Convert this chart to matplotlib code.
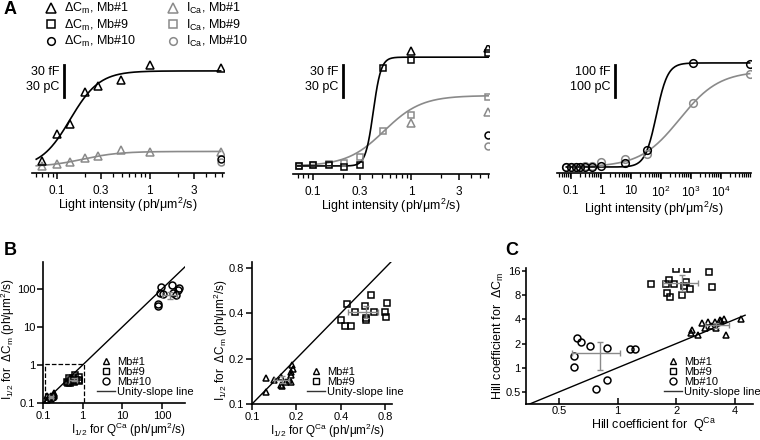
import numpy as np
import matplotlib
matplotlib.use("Agg")
import matplotlib.pyplot as plt
from matplotlib.lines import Line2D
from matplotlib.patches import Rectangle
from matplotlib.ticker import LogLocator, NullFormatter
from matplotlib.transforms import blended_transform_factory

plt.rcParams['font.family'] = ['Liberation Sans', 'DejaVu Sans']
plt.rcParams['mathtext.fontset'] = 'custom'
plt.rcParams['mathtext.rm'] = 'Liberation Sans'
plt.rcParams['mathtext.it'] = 'Liberation Sans:italic'
plt.rcParams['mathtext.bf'] = 'Liberation Sans:bold'
plt.rcParams['font.size'] = 9

W, H = 760, 440
GRAY = '#8a8a8a'
TICK_FS = 8.5
LAB_FS = 9

# ---------------- panel A data (fF for dCm, pC for ICa) ----------------
a1_x = [0.07, 0.1, 0.138, 0.2, 0.28, 0.49, 1.0, 5.8]
a1_cm_mb1 = [6.6, 31.9, 41.3, 71.3, 76.9, 82.5, 96.6, 93.8]
a1_ca_mb1 = [1.9, 3.75, 5.6, 9.4, 11.3, 16.9, 15.0, 15.0]
a1_x_sat = [5.8]
a1_cm_mb10 = [8.4]
a1_ca_mb10 = [5.6]

a2_x = [0.072, 0.1, 0.145, 0.205, 0.3, 0.51, 1.0, 6.0]
a2_cm_mb9 = [1.9, 2.8, 2.8, 0.9, 2.8, 93.8, 101.3, 107.8]
a2_ca_mb9 = [1.9, 2.8, 3.75, 4.7, 10.3, 34.7, 49.7, 66.6]
a2_x_sat = [1.0, 6.0]
a2_cm_mb1 = [109.7, 112.5]
a2_ca_mb1 = [42.2, 52.5]
a2_x_last = [6.0]
a2_cm_mb10 = [30.9]
a2_ca_mb10 = [20.6]

a3_x = [0.07, 0.1, 0.15, 0.2, 0.3, 0.5, 1, 6.3, 35, 1200, 90000]
a3_cm_mb10 = [3.1, 3.1, 3.1, 3.1, 3.1, 3.1, 6.3, 15.6, 56, 328, 325]
a3_ca_mb10 = [3.1, 3.1, 3.1, 3.1, 4.7, 6.3, 19.7, 27, 43.8, 203, 294]

# Hill fits: base, amplitude, I1/2, n
a1_cm_fit = (0.0, 91.0, 0.139, 2.75)
a1_ca_fit = (1.0, 14.5, 0.19, 2.2)
a2_cm_fit = (1.9, 102.0, 0.41, 11.0)
a2_ca_fit = (1.9, 66.0, 0.53, 2.3)
a3_cm_fit = (3.0, 325.0, 70.0, 2.3)
a3_ca_fit = (3.0, 300.0, 420.0, 0.66)

# ---------------- panel B data (I1/2, ph/um2/s) ----------------
b_mb1_x = [0.125, 0.125, 0.142, 0.157, 0.157, 0.178, 0.185, 0.188, 0.19, 0.185, 0.159, 0.17, 0.183]
b_mb1_y = [0.149, 0.121, 0.145, 0.134, 0.152, 0.145, 0.156, 0.182, 0.17, 0.162, 0.131, 0.141, 0.141]
b_mb9_x = [0.44, 0.645, 0.82, 0.58, 0.50, 0.67, 0.80, 0.81, 0.59, 0.59, 0.40, 0.43, 0.47]
b_mb9_y = [0.46, 0.53, 0.47, 0.45, 0.41, 0.41, 0.41, 0.38, 0.37, 0.36, 0.36, 0.33, 0.33]
b_mb10_x = [81, 81, 94, 89, 107, 174, 188, 232, 270, 255]
b_mb10_y = [36, 40, 110, 76, 72, 129, 76, 69, 104, 95]
b_mean_x = [0.16, 0.59, 160]
b_mean_y = [0.145, 0.41, 70]
b_xerr_lo = [0.018, 0.14, 60]
b_xerr_hi = [0.018, 0.13, 80]
b_yerr_lo = [0.008, 0.04, 15]
b_yerr_hi = [0.008, 0.04, 15]
zoom_box = (0.11, 0.1, 1.05, 1.05)

# ---------------- panel C data (Hill coefficients) ----------------
c_mb1_x = [2.4, 2.37, 2.59, 2.7, 2.92, 3.15, 3.35, 3.5, 3.61, 4.3, 2.8, 3.2, 3.0, 3.4]
c_mb1_y = [2.95, 2.74, 2.56, 3.58, 3.74, 3.74, 3.93, 4.0, 2.56, 4.05, 3.1, 3.1, 3.3, 3.8]
c_mb9_x = [2.0, 2.28, 2.94, 1.48, 1.77, 1.83, 1.95, 2.24, 2.18, 2.36, 3.03, 1.80, 1.86, 2.14]
c_mb9_y = [16.9, 16.9, 15.7, 11, 11, 12.4, 10.9, 11.8, 10.5, 9.47, 10.0, 8.45, 7.5, 8.0]
c_mb10_x = [0.62, 0.65, 0.72, 0.88, 1.16, 1.22, 0.6, 0.6, 0.88, 0.77]
c_mb10_y = [2.33, 2.1, 1.88, 1.75, 1.7, 1.7, 1.38, 1.03, 0.71, 0.55]
c_mean_x = [3.2, 2.13, 0.81]
c_mean_y = [3.39, 11.2, 1.52]
c_xerr_lo = [0.4, 0.43, 0.23]
c_xerr_hi = [0.5, 0.44, 0.22]
c_yerr_lo = [0.25, 2.3, 0.58]
c_yerr_hi = [0.25, 2.9, 0.58]


def hill(x, base, amp, k, n):
    return base + amp * x ** n / (k ** n + x ** n)


fig = plt.figure(figsize=(7.6, 4.4), dpi=100)


def add_ax(l, t, r, b):
    return fig.add_axes([l / W, 1 - b / H, (r - l) / W, (b - t) / H])


def open_pts(ax, x, y, m, c, ms=6):
    ax.plot(x, y, ls='none', marker=m, ms=ms, mfc='none', mec=c, mew=1.1, zorder=3)


def style_a(ax, xlim, ylim):
    for s in ['left', 'top', 'right']:
        ax.spines[s].set_visible(False)
    ax.spines['bottom'].set_linewidth(1.2)
    ax.set_xscale('log')
    ax.set_xlim(*xlim)
    ax.set_ylim(*ylim)
    ax.set_yticks([])
    ax.xaxis.set_minor_locator(LogLocator(base=10, subs=np.arange(2, 10), numticks=30))
    ax.xaxis.set_minor_formatter(NullFormatter())
    ax.tick_params(axis='x', which='major', length=4.5, width=1.1, pad=4, labelsize=TICK_FS)
    ax.tick_params(axis='x', which='minor', length=2.8, width=0.9)
    ax.set_xlabel('Light intensity (ph/μm$^2$/s)', labelpad=-0.5, fontsize=LAB_FS)
    ax.patch.set_alpha(0)


def scale_bar(ax, xf, y0, length):
    tr = blended_transform_factory(ax.transAxes, ax.transData)
    ax.plot([xf, xf], [y0, y0 + length], color='k', lw=2, transform=tr, clip_on=False)
    ax.text(xf - 0.025, y0 + length * 0.78, f'{length} fF', ha='right', va='center',
            transform=tr, fontsize=LAB_FS)
    ax.text(xf - 0.025, y0 + length * 0.3, f'{length} pC', ha='right', va='center',
            transform=tr, fontsize=LAB_FS)


# ---- A1 ----
ax = add_ax(32, 45, 224, 173)
style_a(ax, (0.054, 6.3), (-4.7, 115.3))
xs = np.logspace(np.log10(0.06), np.log10(5.8), 300)
ax.plot(xs, hill(xs, *a1_cm_fit), color='k', lw=1.2)
ax.plot(xs, hill(xs, *a1_ca_fit), color=GRAY, lw=1.2)
open_pts(ax, a1_x, a1_ca_mb1, '^', GRAY)
open_pts(ax, a1_x, a1_cm_mb1, '^', 'k')
open_pts(ax, a1_x_sat, a1_ca_mb10, 'o', GRAY, 5)
open_pts(ax, a1_x_sat, a1_cm_mb10, 'o', 'k', 5)
ax.set_xticks([0.1, 0.3, 1, 3], ['0.1', '0.3', '1', '3'])
scale_bar(ax, 0.167, 66.6, 30)

# ---- A2 ----
ax = add_ax(293, 45, 489, 174)
style_a(ax, (0.063, 6.1), (-5.6, 115.3))
xs = np.logspace(np.log10(0.07), np.log10(6.0), 300)
ax.plot(xs, hill(xs, *a2_ca_fit), color=GRAY, lw=1.2)
ax.plot(xs, hill(xs, *a2_cm_fit), color='k', lw=1.2)
open_pts(ax, a2_x, a2_ca_mb9, 's', GRAY, 5)
open_pts(ax, a2_x, a2_cm_mb9, 's', 'k', 5)
open_pts(ax, a2_x_sat, a2_ca_mb1, '^', GRAY)
open_pts(ax, a2_x_sat, a2_cm_mb1, '^', 'k')
open_pts(ax, a2_x_last, a2_ca_mb10, 'o', GRAY, 5)
open_pts(ax, a2_x_last, a2_cm_mb10, 'o', 'k', 5)
ax.set_xticks([0.1, 0.3, 1, 3], ['0.1', '0.3', '1', '3'])
scale_bar(ax, 0.255, 66.6, 30)

# ---- A3 ----
ax = add_ax(557, 45, 751, 173)
style_a(ax, (0.034, 1.0e5), (-15.6, 384))
xs = np.logspace(np.log10(0.07), np.log10(90000), 300)
ax.plot(xs, hill(xs, *a3_ca_fit), color=GRAY, lw=1.2)
ax.plot(xs, hill(xs, *a3_cm_fit), color='k', lw=1.2)
open_pts(ax, a3_x, a3_ca_mb10, 'o', GRAY, 5.5)
open_pts(ax, a3_x, a3_cm_mb10, 'o', 'k', 5.5)
ax.set_xticks([0.1, 1, 10, 100, 1e3, 1e4],
              ['0.1', '1', '10', '10$^2$', '10$^3$', '10$^4$'])
scale_bar(ax, 0.299, 222, 100)

# ---- A legend ----
h_cm = [Line2D([], [], ls='none', marker=m, ms=s, mfc='none', mec='k', mew=1.1)
        for m, s in zip('^so', [6.5, 5.5, 5.5])]
h_ca = [Line2D([], [], ls='none', marker=m, ms=s, mfc='none', mec=GRAY, mew=1.1)
        for m, s in zip('^so', [6.5, 5.5, 5.5])]
leg_kw = dict(loc='upper left', frameon=False, fontsize=9, handlelength=1.0,
              handletextpad=0.55, labelspacing=0.12, borderpad=0, borderaxespad=0)
fig.legend(h_cm, ['ΔC$_\\mathrm{m}$, Mb#1', 'ΔC$_\\mathrm{m}$, Mb#9', 'ΔC$_\\mathrm{m}$, Mb#10'],
           bbox_to_anchor=(45 / W, 1 - 1 / H), **leg_kw)
fig.legend(h_ca, ['I$_\\mathrm{Ca}$, Mb#1', 'I$_\\mathrm{Ca}$, Mb#9', 'I$_\\mathrm{Ca}$, Mb#10'],
           bbox_to_anchor=(167 / W, 1 - 1 / H), **leg_kw)


def style_b(ax):
    for s in ['top', 'right']:
        ax.spines[s].set_visible(False)
    for s in ['left', 'bottom']:
        ax.spines[s].set_linewidth(1.2)
    ax.tick_params(which='major', length=4, width=1.1, pad=1.5, labelsize=8)
    ax.tick_params(which='minor', length=0)
    ax.patch.set_alpha(0)


def unity_legend(ax, handles, labels, anchor):
    ax.legend(handles + [Line2D([], [], color='#333333', lw=1)], labels + ['Unity-slope line'],
              loc='upper left', bbox_to_anchor=anchor, bbox_transform=fig.transFigure,
              frameon=False, fontsize=8, handlelength=1.6, handletextpad=0.2,
              labelspacing=0.0, borderpad=0, borderaxespad=0)


mk = lambda m: Line2D([], [], ls='none', marker=m, ms=5, mfc='none', mec='k', mew=1)
ylab = 'I$_{1/2}$ for  ΔC$_\\mathrm{m}$ (ph/μm$^2$/s)'
xlab = 'I$_{1/2}$ for Q$^\\mathrm{Ca}$ (ph/μm$^2$/s)'

# ---- B1 ----
ax = add_ax(43, 262, 185, 403)
style_b(ax)
ax.set_xscale('log')
ax.set_yscale('log')
ax.set_xlim(0.1, 380)
ax.set_ylim(0.1, 510)
ax.plot([0.1, 380], [0.1, 380], color='k', lw=1)
ax.add_patch(Rectangle((zoom_box[0], zoom_box[1]), zoom_box[2] - zoom_box[0],
                       zoom_box[3] - zoom_box[1], fill=False, ls='--', lw=0.9, ec='k'))
open_pts(ax, b_mb1_x, b_mb1_y, '^', 'k', 5)
open_pts(ax, b_mb9_x, b_mb9_y, 's', 'k', 5)
open_pts(ax, b_mb10_x, b_mb10_y, 'o', 'k', 5)
ax.errorbar(b_mean_x, b_mean_y, xerr=[b_xerr_lo, b_xerr_hi], yerr=[b_yerr_lo, b_yerr_hi],
            fmt='none', ecolor=GRAY, elinewidth=1, capsize=2, zorder=4)
ax.set_xticks([0.1, 1, 10, 100], ['0.1', '1', '10', '100'])
ax.set_yticks([0.1, 1, 10, 100], ['0.1', '1', '10', '100'])
ax.set_xlabel(xlab, fontsize=8.5)
ax.set_ylabel(ylab, fontsize=8.5)
ax.xaxis.set_label_coords(0.6, -0.125)
ax.yaxis.set_label_coords(-0.183, 0.45)
unity_legend(ax, [mk('^'), mk('s'), mk('o')], ['Mb#1', 'Mb#9', 'Mb#10'], (97 / W, 1 - 357 / H))

# ---- B2 ----
ax = add_ax(252, 262, 392, 404)
style_b(ax)
ax.set_xscale('log', base=2)
ax.set_yscale('log', base=2)
ax.set_xlim(0.1, 0.89)
ax.set_ylim(0.1, 0.875)
ax.plot([0.1, 0.89], [0.1, 0.89], color='k', lw=1)
open_pts(ax, b_mb1_x, b_mb1_y, '^', 'k', 5)
open_pts(ax, b_mb9_x, b_mb9_y, 's', 'k', 5)
ax.errorbar(b_mean_x[:2], b_mean_y[:2], xerr=[b_xerr_lo[:2], b_xerr_hi[:2]],
            yerr=[b_yerr_lo[:2], b_yerr_hi[:2]],
            fmt='none', ecolor=GRAY, elinewidth=1, capsize=2, zorder=4)
ax.set_xticks([0.1, 0.2, 0.4, 0.8], ['0.1', '0.2', '0.4', '0.8'])
ax.set_yticks([0.1, 0.2, 0.4, 0.8], ['0.1', '0.2', '0.4', '0.8'])
ax.tick_params(axis='x', pad=2)
ax.set_xlabel(xlab, fontsize=8.5)
ax.set_ylabel(ylab, fontsize=8.5)
ax.xaxis.set_label_coords(0.536, -0.128)
ax.yaxis.set_label_coords(-0.155, 0.45)
unity_legend(ax, [mk('^'), mk('s')], ['Mb#1', 'Mb#9'], (307 / W, 1 - 367 / H))

# ---- C ----
ax = add_ax(526, 268, 753, 404)
style_b(ax)
ax.set_xscale('log', base=2)
ax.set_yscale('log', base=2)
ax.set_xlim(0.339, 4.94)
ax.set_ylim(0.354, 17.4)
ax.plot([0.35, 4.5], [0.35, 4.5], color='k', lw=1)
open_pts(ax, c_mb1_x, c_mb1_y, '^', 'k', 5)
open_pts(ax, c_mb9_x, c_mb9_y, 's', 'k', 5)
open_pts(ax, c_mb10_x, c_mb10_y, 'o', 'k', 5)
ax.errorbar(c_mean_x, c_mean_y, xerr=[c_xerr_lo, c_xerr_hi], yerr=[c_yerr_lo, c_yerr_hi],
            fmt='none', ecolor=GRAY, elinewidth=1, capsize=2, zorder=4)
ax.set_xticks([0.5, 1, 2, 4], ['0.5', '1', '2', '4'])
ax.set_yticks([0.5, 1, 2, 4, 8, 16], ['0.5', '1', '2', '4', '8', '16'])
ax.tick_params(axis='x', direction='in', pad=1.5)
ax.tick_params(axis='y', length=3, pad=1)
ax.set_xlabel('Hill coefficient for  Q$^\\mathrm{Ca}$', fontsize=LAB_FS)
ax.set_ylabel('Hill coefficient for  ΔC$_\\mathrm{m}$', fontsize=LAB_FS)
ax.xaxis.set_label_coords(0.56, -0.09)
ax.yaxis.set_label_coords(-0.09, 0.5)
unity_legend(ax, [mk('^'), mk('s'), mk('o')], ['Mb#1', 'Mb#9', 'Mb#10'], (664 / W, 1 - 357 / H))

# panel letters
for lab, x, y in [('A', 4, 10), ('B', 4, 250), ('C', 505, 250)]:
    fig.text(x / W, 1 - y / H, lab, fontsize=13, fontweight='bold', va='center', ha='left')

fig.savefig('out.png', dpi=100)
